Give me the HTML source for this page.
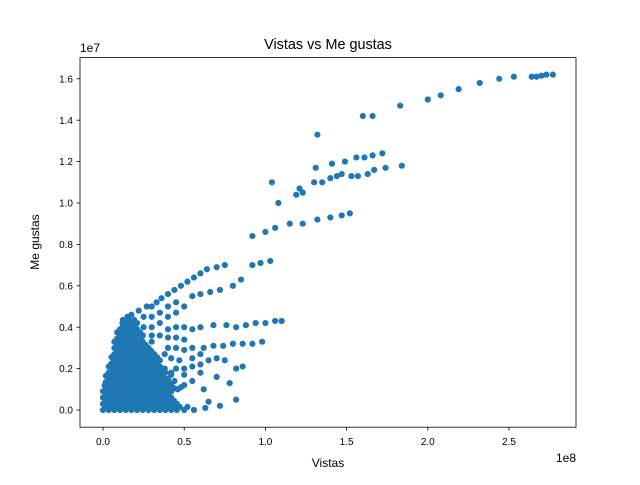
<!DOCTYPE html>
<html><head><meta charset="utf-8"><style>
body{margin:0;background:#fff}
svg text{font-family:"Liberation Sans","DejaVu Sans",sans-serif;fill:#000}
</style></head><body>
<svg id="chart" width="640" height="480">
<rect width="640" height="480" fill="#fff"/>
<g id="pts"></g>
<rect x="80" y="57.6" width="496" height="369.6" fill="none" stroke="#000" stroke-width="0.8"/>
<g id="ax"></g>
<text x="328" y="49" font-size="14.4" text-anchor="middle">Vistas vs Me gustas</text>
<text x="328" y="467" font-size="12" text-anchor="middle">Vistas</text>
<text x="39" y="242" font-size="12" text-anchor="middle" transform="rotate(-90 39 242)">Me gustas</text>
<text x="80" y="52" font-size="12">1e7</text>
<text x="576" y="462" font-size="12" text-anchor="end">1e8</text>
</svg>
<script>
const xTicks=[0,0.5,1.0,1.5,2.0,2.5];
const xTickLabels=["0.0","0.5","1.0","1.5","2.0","2.5"];
const yTicks=[0,0.2,0.4,0.6,0.8,1.0,1.2,1.4,1.6];
const yTickLabels=["0.0","0.2","0.4","0.6","0.8","1.0","1.2","1.4","1.6"];
// views (1e8), likes (1e7)
const points=[
[0,0],[.035,0],[.07,0],[.105,0],[.14,0],[.175,0],[.21,0],[.245,0],[.28,0],[.315,0],[.35,0],[.385,0],[.42,0],[.455,0],[.5,0],[.56,0],[.63,.01],
[0,.03],[.035,.03],[.07,.03],[.105,.03],[.14,.03],[.175,.03],[.21,.03],[.245,.03],[.28,.03],[.315,.03],[.35,.03],[.385,.03],[.42,.03],[.455,.03],
[0,.06],[.035,.06],[.07,.06],[.105,.06],[.14,.06],[.175,.06],[.21,.06],[.245,.06],[.28,.06],[.315,.06],[.35,.06],[.385,.06],[.42,.06],
[0,.09],[.035,.09],[.07,.09],[.105,.09],[.14,.09],[.175,.09],[.21,.09],[.245,.09],[.28,.09],[.315,.09],[.35,.09],[.385,.09],[.42,.09],
[.01,.12],[.035,.12],[.07,.12],[.105,.12],[.14,.12],[.175,.12],[.21,.12],[.245,.12],[.28,.12],[.315,.12],[.35,.12],[.385,.12],[.42,.12],
[.035,.15],[.07,.15],[.105,.15],[.14,.15],[.175,.15],[.21,.15],[.245,.15],[.28,.15],[.315,.15],[.35,.15],[.385,.15],[.40,.15],
[.035,.18],[.07,.18],[.105,.18],[.14,.18],[.175,.18],[.21,.18],[.245,.18],[.28,.18],[.315,.18],[.35,.18],[.385,.18],
[.035,.21],[.07,.21],[.105,.21],[.14,.21],[.175,.21],[.21,.21],[.245,.21],[.28,.21],[.315,.21],[.35,.21],
[.07,.24],[.105,.24],[.14,.24],[.175,.24],[.21,.24],[.245,.24],[.28,.24],[.315,.24],[.35,.24],
[.07,.27],[.105,.27],[.14,.27],[.175,.27],[.21,.27],[.245,.27],[.28,.27],[.315,.27],
[.07,.30],[.105,.30],[.14,.30],[.175,.30],[.21,.30],[.245,.30],[.28,.30],
[.07,.33],[.105,.33],[.14,.33],[.175,.33],[.21,.33],[.245,.33],
[.105,.36],[.14,.36],[.175,.36],[.21,.36],[.245,.36],
[.105,.39],[.14,.39],[.175,.39],[.21,.39],
[.12,.42],[.14,.42],[.175,.42],[.21,.42],[.15,.45],[.175,.46],
[.0175,.015],[.0525,.015],[.0875,.015],[.1225,.015],[.1575,.015],[.1925,.015],[.2275,.015],[.2625,.015],[.2975,.015],[.3325,.015],[.3675,.015],[.4025,.015],[.4375,.015],[.4725,.015],[.52,.015],
[.0175,.045],[.0525,.045],[.0875,.045],[.1225,.045],[.1575,.045],[.1925,.045],[.2275,.045],[.2625,.045],[.2975,.045],[.3325,.045],[.3675,.045],[.4025,.045],[.4375,.045],
[.0175,.075],[.0525,.075],[.0875,.075],[.1225,.075],[.1575,.075],[.1925,.075],[.2275,.075],[.2625,.075],[.2975,.075],[.3325,.075],[.3675,.075],[.4025,.075],
[.0175,.105],[.0525,.105],[.0875,.105],[.1225,.105],[.1575,.105],[.1925,.105],[.2275,.105],[.2625,.105],[.2975,.105],[.3325,.105],[.3675,.105],[.4025,.105],[.44,.105],[.48,.11],
[.0175,.135],[.0525,.135],[.0875,.135],[.1225,.135],[.1575,.135],[.1925,.135],[.2275,.135],[.2625,.135],[.2975,.135],[.3325,.135],[.3675,.135],[.4025,.135],[.44,.14],
[.0175,.165],[.0525,.165],[.0875,.165],[.1225,.165],[.1575,.165],[.1925,.165],[.2275,.165],[.2625,.165],[.2975,.165],[.3325,.165],[.3675,.165],[.42,.17],
[.0525,.195],[.0875,.195],[.1225,.195],[.1575,.195],[.1925,.195],[.2275,.195],[.2625,.195],[.2975,.195],[.3325,.195],[.3675,.195],
[.0525,.225],[.0875,.225],[.1225,.225],[.1575,.225],[.1925,.225],[.2275,.225],[.2625,.225],[.2975,.225],[.3325,.225],
[.0525,.255],[.0875,.255],[.1225,.255],[.1575,.255],[.1925,.255],[.2275,.255],[.2625,.255],[.2975,.255],[.3325,.255],
[.0875,.285],[.1225,.285],[.1575,.285],[.1925,.285],[.2275,.285],[.2625,.285],[.2975,.285],
[.0875,.315],[.1225,.315],[.1575,.315],[.1925,.315],[.2275,.315],[.2625,.315],
[.0875,.345],[.1225,.345],[.1575,.345],[.1925,.345],[.2275,.345],
[.0875,.375],[.1225,.375],[.1575,.375],[.1925,.375],[.2275,.375],
[.1225,.405],[.1575,.405],[.1925,.405],[.1225,.435],[.1575,.435],[.1925,.435],
[.3,.45],[.35,.47],[.4,.5],[.45,.52],[.3,.4],[.35,.42],[.4,.45],[.45,.47],[.5,.5],[.25,.4],[.3,.36],[.35,.36],[.4,.35],[.45,.35],[.5,.34],[.3,.33],[.38,.27],[.42,.25],[.47,.24],[.38,.2],[.42,.18],[.5,.17],[.55,.25],[.6,.27],[.25,.45],[.22,.48],[.27,.5],
[.3,.5],[.33,.52],[.36,.54],[.4,.56],[.44,.58],[.48,.6],[.52,.62],[.56,.64],[.6,.66],[.64,.68],[.7,.69],[.75,.7],[.55,.55],[.6,.56],[.66,.57],[.72,.58],
[.92,.7],[.97,.71],[1.03,.72],[.85,.63],[.8,.6],
[.4,.39],[.45,.4],[.5,.4],[.55,.39],[.6,.4],[.68,.41],[.76,.41],[.82,.4],[.88,.41],[.94,.42],[1.0,.42],[1.06,.43],[1.1,.43],
[.4,.3],[.45,.3],[.5,.29],[.55,.3],[.62,.3],[.68,.31],[.74,.31],[.8,.32],[.86,.32],[.92,.32],[.98,.33],
[.45,.2],[.5,.2],[.55,.21],[.6,.22],[.65,.24],[.7,.25],[.75,.24],[.82,.2],[.86,.21],[.6,.18],[.7,.16],[.78,.13],
[.46,.1],[.5,.12],[.55,.14],[.62,.1],[.65,.04],[.72,.02],[.82,.05],
[.92,.84],[1.0,.86],[1.06,.88],[1.15,.9],[1.23,.9],[1.32,.92],[1.4,.93],[1.47,.94],[1.52,.95],
[1.04,1.1],[1.08,1.0],[1.19,1.04],[1.21,1.07],[1.23,1.05],[1.3,1.1],[1.35,1.1],[1.4,1.12],[1.44,1.13],[1.47,1.14],[1.53,1.13],[1.57,1.13],[1.63,1.14],[1.67,1.16],[1.74,1.17],[1.84,1.18],
[1.31,1.17],[1.41,1.19],[1.49,1.2],[1.56,1.22],[1.61,1.22],[1.66,1.23],[1.72,1.24],[1.32,1.33],
[1.6,1.42],[1.66,1.42],[1.83,1.47],[2.0,1.5],[2.08,1.52],[2.19,1.55],[2.32,1.58],[2.44,1.6],[2.53,1.61],[2.64,1.61],[2.67,1.61],[2.7,1.615],[2.73,1.62],[2.77,1.62]
];
const NS="http://www.w3.org/2000/svg";
const sx=v=>103+v*162.4, sy=v=>410-v*207;
const pg=document.getElementById('pts');
points.forEach(p=>{
 const c=document.createElementNS(NS,'circle');
 c.setAttribute('cx',sx(p[0]));c.setAttribute('cy',sy(p[1]));c.setAttribute('r',3.1);c.setAttribute('fill','#1f77b4');
 
 
 pg.appendChild(c);
});
const ax=document.getElementById('ax');
xTicks.forEach((t,i)=>{
 const l=document.createElementNS(NS,'line');
 l.setAttribute('x1',sx(t));l.setAttribute('x2',sx(t));l.setAttribute('y1',427.2);l.setAttribute('y2',430.7);l.setAttribute('stroke','#000');l.setAttribute('stroke-width','0.8');
 
 
 ax.appendChild(l);
 const tx=document.createElementNS(NS,'text');
 tx.setAttribute('x',sx(t));tx.setAttribute('y',445);tx.setAttribute('font-size','10');tx.setAttribute('text-anchor','middle');tx.textContent=xTickLabels[i];
 
 
 ax.appendChild(tx);
});
yTicks.forEach((t,i)=>{
 const l=document.createElementNS(NS,'line');
 l.setAttribute('x1',76.5);l.setAttribute('x2',80);l.setAttribute('y1',sy(t));l.setAttribute('y2',sy(t));l.setAttribute('stroke','#000');l.setAttribute('stroke-width','0.8');
 
 
 ax.appendChild(l);
 const tx=document.createElementNS(NS,'text');
 tx.setAttribute('x',73);tx.setAttribute('y',sy(t)+3.6);tx.setAttribute('font-size','10');tx.setAttribute('text-anchor','end');tx.textContent=yTickLabels[i];
 
 
 ax.appendChild(tx);
});
</script>
</body></html>
